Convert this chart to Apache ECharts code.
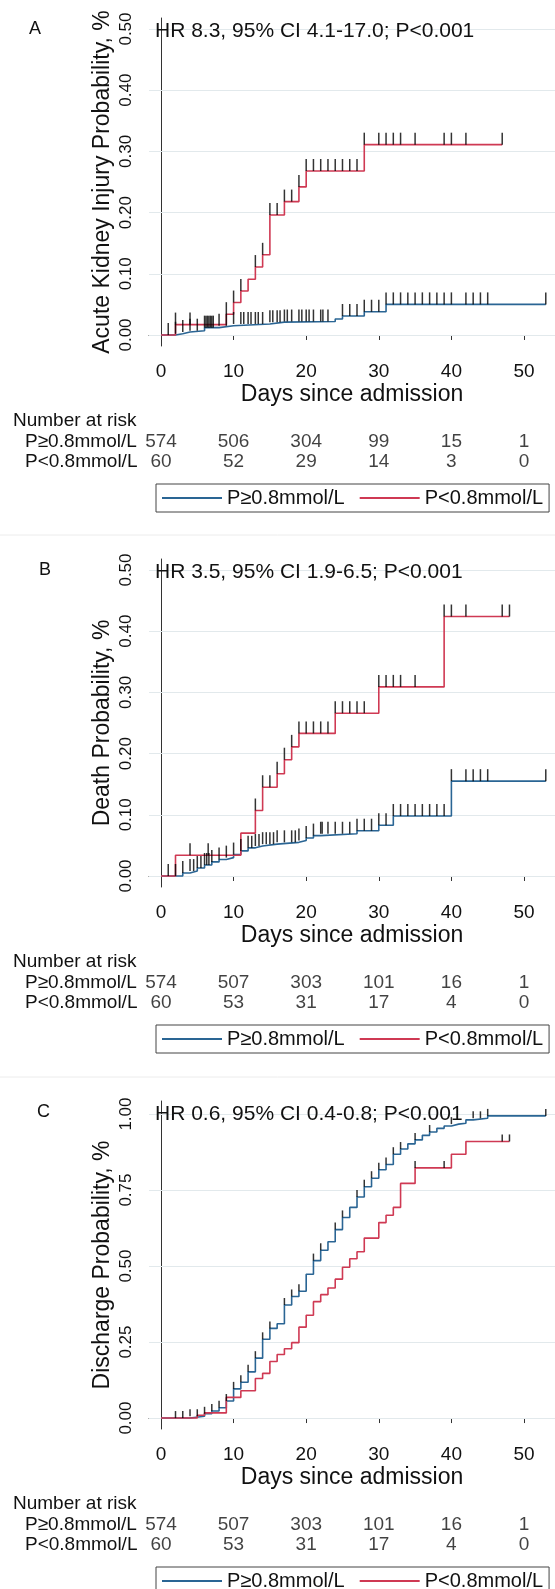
<!DOCTYPE html>
<html>
<head>
<meta charset="utf-8">
<script src="https://cdn.jsdelivr.net/npm/echarts@6.0.0/dist/echarts.min.js"></script>
<style>
  html, body { margin: 0; padding: 0; background: #fff; }
  #chart { width: 555px; height: 1589px; }
</style>
</head>
<body>
<div id="chart"></div>
<script>
// ---- data ----
const days = [0, 10, 20, 30, 40, 50];
const groups = ['P≥0.8mmol/L', 'P<0.8mmol/L'];
const letters = ['A', 'B', 'C'];
const hrTexts = [
  'HR 8.3, 95% CI 4.1-17.0; P<0.001',
  'HR 3.5, 95% CI 1.9-6.5; P<0.001',
  'HR 0.6, 95% CI 0.4-0.8; P<0.001'
];
const yTitles = ['Acute Kidney Injury Probability, %', 'Death Probability, %', 'Discharge Probability, %'];
const yTicksAB = [0, 0.1, 0.2, 0.3, 0.4, 0.5];
const yTicksC = [0, 0.25, 0.5, 0.75, 1];

// A: acute kidney injury
const akiHighT = [0, 2, 3, 4, 6, 8, 10, 15, 17, 24, 25, 28, 31, 53];
const akiHighS = [0, 0.002, 0.005, 0.007, 0.012, 0.015, 0.018, 0.021, 0.022, 0.026, 0.031, 0.038, 0.050, 0.050];
const akiHighCens = [2, 3, 4, 5, 6, 6.2, 6.4, 6.6, 6.8, 7, 7.2, 8, 9, 10, 11, 11.4, 12, 12.4, 13, 13.4, 14, 15, 15.4, 16, 16.4,
  17, 17.4, 18, 19, 19.4, 20, 20.4, 21, 22, 22.3, 23, 25, 26, 27, 28, 29, 30, 31, 32, 33, 34, 35, 36, 37, 38, 39, 40, 42, 43, 44, 45, 53];
const akiLowT = [0, 2, 9, 10, 11, 12, 13, 14, 15, 17, 19, 20, 28, 47];
const akiLowS = [0, 0.017, 0.034, 0.053, 0.072, 0.091, 0.111, 0.131, 0.196, 0.218, 0.242, 0.268, 0.311, 0.311];
const akiLowCens = [1, 2, 4, 9, 10, 11, 13, 14, 15, 16, 17, 18, 19, 20, 21, 22, 23, 24, 25, 26, 27, 28, 30, 31, 32, 33, 35, 39, 40, 42, 47];
const akiRiskHigh = [574, 506, 304, 99, 15, 1];
const akiRiskLow = [60, 52, 29, 14, 3, 0];

// B: death
const deathHighT = [0, 3, 4, 5, 6, 7, 8, 9, 10, 11, 12, 13, 14, 16, 19, 20, 21, 22, 27, 30, 32, 40, 53];
const deathHighS = [0, 0.005, 0.008, 0.013, 0.018, 0.023, 0.027, 0.030, 0.035, 0.041, 0.046, 0.049, 0.052, 0.055,
  0.058, 0.062, 0.066, 0.069, 0.074, 0.083, 0.098, 0.155, 0.155];
const deathHighCens = [2, 3, 4, 4.5, 5, 5.5, 6, 6.3, 6.6, 7, 8, 9, 10, 11, 12, 12.5, 13, 13.5, 14, 14.5, 15, 15.5, 16, 17, 18, 18.5,
  19, 20, 21, 22, 22.2, 23, 24, 25, 26, 27, 28, 29, 30, 31, 32, 33, 34, 35, 36, 37, 38, 39, 40, 42, 43, 44, 45, 53];
const deathLowT = [0, 2, 11, 13, 14, 16, 17, 18, 19, 24, 30, 39, 48];
const deathLowS = [0, 0.034, 0.070, 0.107, 0.145, 0.167, 0.190, 0.211, 0.233, 0.266, 0.309, 0.424, 0.424];
const deathLowCens = [1, 4, 6.5, 13, 14, 15, 16, 17, 18, 19, 20, 21, 22, 23, 24, 25, 26, 27, 28, 30, 31, 32, 33, 35, 39, 40, 42, 47, 48];
const deathRiskHigh = [574, 507, 303, 101, 16, 1];
const deathRiskLow = [60, 53, 31, 17, 4, 0];

// C: discharge
const dischHighT = [0, 4, 6, 7, 8, 9, 10, 11, 12, 13, 14, 15, 16, 17, 18, 19, 20, 21, 22, 23, 24, 25, 26, 27, 28, 29, 30,
  31, 32, 33, 34, 35, 36, 37, 38, 39, 40, 41, 42, 43, 45, 53];
const dischHighS = [0, 0.006, 0.014, 0.023, 0.034, 0.056, 0.096, 0.118, 0.152, 0.197, 0.259, 0.295, 0.310, 0.372, 0.400,
  0.417, 0.473, 0.518, 0.552, 0.580, 0.620, 0.660, 0.693, 0.727, 0.761, 0.789, 0.817, 0.834, 0.868, 0.885, 0.902, 0.915,
  0.930, 0.941, 0.953, 0.961, 0.967, 0.970, 0.981, 0.986, 0.994, 0.994];
const dischHighCens = [2, 3, 4, 5, 6, 7, 8, 9, 10, 11, 12, 13, 14, 15, 17, 18, 19, 21, 22, 24, 25, 27, 28, 29, 30, 31, 32, 33,
  35, 37, 40, 43, 44, 45, 53];
const dischLowT = [0, 5, 6, 9, 11, 13, 14, 15, 16, 17, 18, 19, 20, 21, 22, 23, 24, 25, 26, 27, 28, 30, 31, 32, 33, 35, 40, 42, 48];
const dischLowS = [0, 0.009, 0.017, 0.068, 0.090, 0.130, 0.147, 0.186, 0.209, 0.228, 0.248, 0.299, 0.338, 0.383, 0.406,
  0.428, 0.457, 0.496, 0.524, 0.547, 0.592, 0.643, 0.667, 0.693, 0.772, 0.823, 0.868, 0.910, 0.910];
const dischLowCens = [35, 39, 47, 48];
const dischRiskHigh = [574, 507, 303, 101, 16, 1];
const dischRiskLow = [60, 53, 31, 17, 4, 0];

// ---- layout ----
const BLUE = '#2a6594';
const RED = '#cf3953';
const INK = '#111';
const FONT = '"Liberation Sans", Arial, sans-serif';
const offsets = [0, 541, 1083];
const letterLeft = [29, 39, 37];
const xMin = -1.65, xMax = 54.27;

const panels = [
  { hi: [akiHighT, akiHighS, akiHighCens], lo: [akiLowT, akiLowS, akiLowCens], risk: [akiRiskHigh, akiRiskLow],
    ticks: yTicksAB, yMin: -0.018, yMax: 0.518, markH: 12 },
  { hi: [deathHighT, deathHighS, deathHighCens], lo: [deathLowT, deathLowS, deathLowCens], risk: [deathRiskHigh, deathRiskLow],
    ticks: yTicksAB, yMin: -0.018, yMax: 0.518, markH: 12 },
  { hi: [dischHighT, dischHighS, dischHighCens], lo: [dischLowT, dischLowS, dischLowCens], risk: [dischRiskHigh, dischRiskLow],
    ticks: yTicksC, yMin: -0.036, yMax: 1.043, markH: 7 }
];

function stepAt(T, S, t) {
  let v = S[0];
  for (let i = 0; i < T.length; i++) if (T[i] <= t) v = S[i];
  return v;
}

const grid = [], xAxis = [], yAxis = [], series = [], legend = [], title = [];

panels.forEach((p, i) => {
  const o = offsets[i];
  const g = 2 * i;
  grid.push({ left: 149, right: 0, top: o + 18, height: 328 });
  grid.push({ left: 149, right: 0, top: o + 432, height: 40 });

  xAxis.push({
    gridIndex: g, type: 'value', min: xMin, max: xMax,
    axisLine: { show: true, lineStyle: { color: '#333', width: 1 } },
    axisTick: { show: true, customValues: days, length: 5, lineStyle: { color: '#333' } },
    axisLabel: { customValues: days, margin: 16, fontSize: 19, color: INK, fontFamily: FONT },
    splitLine: { show: false },
    name: 'Days since admission', nameLocation: 'middle', nameGap: 37, nameMoveOverlap: false,
    nameTextStyle: { fontSize: 23, color: INK, fontFamily: FONT }
  });
  xAxis.push({ gridIndex: g + 1, type: 'value', min: xMin, max: xMax, show: false });

  yAxis.push({
    gridIndex: g, type: 'value', min: p.yMin, max: p.yMax,
    axisLine: { show: true, lineStyle: { color: '#333', width: 1 } },
    axisTick: { show: true, customValues: p.ticks, length: 4, lineStyle: { color: '#333' } },
    axisLabel: { customValues: p.ticks, rotate: 90, margin: 14, fontSize: 17, color: INK, fontFamily: FONT,
      formatter: v => v.toFixed(2) },
    splitLine: { show: false },
    name: yTitles[i], nameLocation: 'middle', nameRotate: 90, nameGap: 35, nameMoveOverlap: false,
    nameTextStyle: { fontSize: 23, color: INK, fontFamily: FONT }
  });
  yAxis.push({
    gridIndex: g + 1, type: 'category', data: groups, inverse: true,
    axisLine: { show: false }, axisTick: { show: false }, splitLine: { show: false },
    axisLabel: { interval: 0, align: 'left', margin: 124, fontSize: 19, color: INK, fontFamily: FONT }
  });

  const curve = (arr, name, color, withGrid) => ({
    name, type: 'line', xAxisIndex: g, yAxisIndex: g, step: 'end',
    data: arr[0].map((t, k) => [t, arr[1][k]]),
    symbol: 'none', color, lineStyle: { color, width: 1.6 }, z: 3,
    emphasis: { disabled: true },
    markLine: withGrid ? {
      silent: true, z: 1, symbol: ['none', 'none'], label: { show: false },
      lineStyle: { color: '#e2e9ec', width: 1, type: 'solid' },
      data: p.ticks.map(v => ({ yAxis: v }))
    } : undefined
  });
  const marks = (arr, name) => ({
    name, type: 'scatter', xAxisIndex: g, yAxisIndex: g, silent: true,
    data: arr[2].map(t => [t, stepAt(arr[0], arr[1], t)]),
    symbol: 'rect', symbolSize: [1.5, p.markH], symbolOffset: [0, -p.markH / 2],
    itemStyle: { color: '#000' }, z: 4
  });
  series.push(curve(p.hi, groups[0], BLUE, true));
  series.push(curve(p.lo, groups[1], RED, false));
  series.push(marks(p.hi, 'cens-hi-' + i));
  series.push(marks(p.lo, 'cens-lo-' + i));
  series.push({
    name: 'risk-' + i, type: 'scatter', xAxisIndex: g + 1, yAxisIndex: g + 1, silent: true,
    symbolSize: 0,
    data: days.map((d, k) => [d, 0, p.risk[0][k]]).concat(days.map((d, k) => [d, 1, p.risk[1][k]])),
    label: { show: true, position: 'inside', formatter: q => String(q.value[2]), fontSize: 19, color: INK, fontFamily: FONT }
  });

  legend.push({
    data: groups, left: 156, top: o + 484, icon: 'rect', itemWidth: 60, itemHeight: 2, itemGap: 15,
    padding: [4, 6], borderColor: '#444', borderWidth: 1, selectedMode: false,
    textStyle: { fontSize: 20, color: INK, fontFamily: FONT }
  });

  const t = (text, left, top, size) => ({
    text, left, top, padding: 0,
    textStyle: { fontSize: size, fontWeight: 'normal', color: INK, fontFamily: FONT }
  });
  title.push(t(letters[i], letterLeft[i], o + 20, 18));
  title.push(t(hrTexts[i], 155, o + 21, 21));
  title.push(t('Number at risk', 13, o + 411, 19));
});

const chart = echarts.init(document.getElementById('chart'), null, { renderer: 'canvas' });
chart.setOption({
  animation: false,
  backgroundColor: '#fff',
  textStyle: { fontFamily: FONT },
  title, grid, xAxis, yAxis, legend, series,
  graphic: [535, 1077].map(y => ({
    type: 'line', shape: { x1: 0, y1: y, x2: 555, y2: y }, style: { stroke: '#ececec', lineWidth: 1 }, silent: true
  }))
});
</script>
</body>
</html>
